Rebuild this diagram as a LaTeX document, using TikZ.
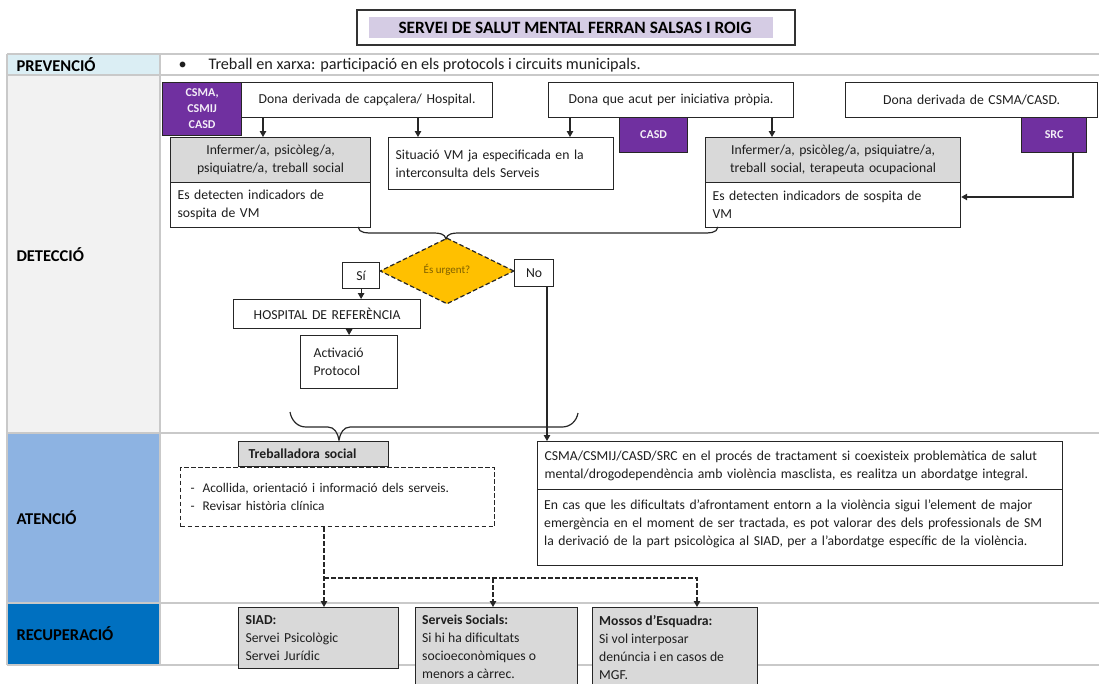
\documentclass[tikz,border=0pt]{standalone}
\usepackage{fontspec}
\setmainfont{Carlito}
\usetikzlibrary{arrows.meta,shapes.geometric}

\definecolor{purp}{HTML}{7030A0}
\definecolor{boxgray}{HTML}{D9D9D9}
\definecolor{prevcol}{HTML}{DBEEF4}
\definecolor{detcol}{HTML}{F2F2F2}
\definecolor{atencol}{HTML}{8DB3E2}
\definecolor{recucol}{HTML}{0070C0}
\definecolor{amber}{HTML}{FFC000}
\definecolor{lav}{HTML}{D5CCE4}
\definecolor{gridcol}{HTML}{C9C9C9}
\definecolor{urgtxt}{HTML}{7F6000}
\definecolor{ink}{HTML}{1E1E1E}

\begin{document}
\begin{tikzpicture}[x=1pt,y=-1pt,
  every node/.style={font=\fontsize{13.7}{18}\selectfont, text=ink},
  bx/.style={draw=black!85, line width=1.2pt, fill=white, anchor=north west,
             inner xsep=7pt, inner ysep=0pt, align=left},
  gbx/.style={bx, fill=boxgray},
  pbx/.style={draw=black!85, line width=1.2pt, fill=purp, anchor=north west, inner sep=0pt,
              align=center, text=white!92!purp, font=\fontsize{12}{16}\selectfont\bfseries},
  lbl/.style={anchor=west, font=\fontsize{16.5}{19}\selectfont\bfseries, text=black},
  arr/.style={-{Triangle[length=6pt,width=6.5pt]}, line width=1.1pt, draw=black!85},
  dasharr/.style={arr, dash pattern=on 4.5pt off 2.5pt},
  bracket/.style={line width=1.2pt, draw=black!85},
  grid/.style={draw=gridcol, line width=1.4pt}
]
\clip (0,0) rectangle (1099,683);

% ---------- title ----------
\draw[draw=black!80, line width=1.5pt, fill=white] (357,10) rectangle (795,45);
\fill[lav] (369,17) rectangle (773,38);
\node[font=\fontsize{17.3}{20}\selectfont\bfseries, text=black] (title) at (575,28)
  {SERVEI DE SALUT MENTAL FERRAN SALSAS I ROIG};

% ---------- table ----------
\fill[prevcol] (7,54) rectangle (160,75);
\fill[detcol]  (7,75) rectangle (160,433);
\fill[atencol] (7,433) rectangle (160,603);
\fill[recucol] (7,603) rectangle (160,665);
\foreach \yy in {54,75,433,603,665} \draw[grid] (7,\yy) -- (1099,\yy);
\draw[grid] (7,54) -- (7,665);
\draw[grid] (160,54) -- (160,665);

\node[lbl] (lprev) at (13,65)  {PREVENCIÓ};
\node[lbl] (ldet)  at (13,255) {DETECCIÓ};
\node[lbl] (laten) at (13,518) {ATENCIÓ};
\node[lbl] (lrecu) at (13,634) {RECUPERACIÓ};

\node[anchor=west, font=\fontsize{16.2}{19}\selectfont] (prevtxt) at (175,65)
  {\textbullet\hspace{22pt}Treball en xarxa: participació en els protocols i circuits municipals.};

% ---------- detection: entry points ----------
\node[bx, text width=237pt, minimum height=35pt, align=center] (d1) at (241,82)
  {Dona derivada de capçalera/ Hospital.};
\node[bx, text width=231pt, minimum height=35pt, align=center] (d2) at (548,82)
  {Dona que acut per iniciativa pròpia.};
\node[bx, text width=238pt, minimum height=35pt, align=center] (d3) at (845,82)
  {Dona derivada de CSMA/CASD.};

\node[pbx, minimum width=79pt, minimum height=53pt] (p1) at (162,82) {CSMA,\\CSMIJ\\CASD};
\node[pbx, minimum width=68pt, minimum height=35pt] (p2) at (619,117) {CASD};
\node[pbx, minimum width=65pt, minimum height=35pt] (p3) at (1021,117) {SRC};

% professionals and detection boxes
\node[gbx, text width=186pt, minimum height=45pt, align=center] (g1) at (170,137)
  {Infermer/a, psicòleg/a,\\psiquiatre/a, treball social};
\node[bx, text width=186pt, minimum height=45pt] (e1) at (170,182)
  {Es detecten indicadors de\\sospita de VM};
\node[bx, text width=211pt, minimum height=52pt] (s1) at (388,137)
  {Situació VM ja especificada en la\\interconsulta dels Serveis};
\node[gbx, text width=241pt, minimum height=45pt, align=center] (g2) at (705,137)
  {Infermer/a, psicòleg/a, psiquiatre/a,\\treball social, terapeuta ocupacional};
\node[bx, text width=241pt, minimum height=45pt] (e2) at (705,182)
  {Es detecten indicadors de sospita de\\VM};

\coordinate (a1) at (263,137);
\coordinate (a2) at (418,137);
\coordinate (a3) at (570,137);
\coordinate (a4) at (772,137);
\draw[arr] (a1 |- d1.south) -- (a1 |- g1.north);
\draw[arr] (a2 |- d1.south) -- (a2 |- s1.north);
\draw[arr] (a3 |- d2.south) -- (a3 |- s1.north);
\draw[arr] (a4 |- d2.south) -- (a4 |- g2.north);
\coordinate (src) at (1073,152);
\coordinate (srcin) at (960,197);
\draw[arr] (src |- p3.south) -- (src |- srcin) -- (srcin -| e2.east);

% ---------- urgency decision ----------
\node[diamond, draw=black!85, dash pattern=on 4.5pt off 2.5pt, line width=1.2pt,
      fill=amber, minimum width=134pt, minimum height=66pt, inner sep=0pt,
      font=\fontsize{11}{12}\selectfont, text=urgtxt] (urg) at (447,271)
  {\raisebox{4pt}{És urgent?}};
\node[bx, text width=23pt, minimum height=26pt, align=center] (si) at (342,262) {Sí};
\node[bx, text width=25pt, minimum height=27pt, align=center] (no) at (514,259) {No};

\draw[bracket] (358,227) to[out=-80,in=180] (374,233) -- (434,233)
  to[out=0,in=100] (446,239) to[out=80,in=180] (458,233) -- (702,233)
  to[out=0,in=-100] (718,227);

\node[bx, text width=173pt, minimum height=29pt, align=center] (hosp) at (233,299)
  {HOSPITAL DE REFERÈNCIA};
\node[bx, inner xsep=13pt, text width=71pt, minimum height=53pt] (act) at (300,335)
  {Activació\\Protocol};
\draw[arr] (si.south) -- (si.south |- hosp.north);
\draw[arr] (act.north |- hosp.south) -- (act.north);

% ---------- attention ----------
\node[gbx, inner xsep=10pt, text width=130pt, minimum height=25pt,
      font=\fontsize{13.7}{18}\selectfont\bfseries] (ts) at (238,441) {Treballadora social};
\node[bx, dash pattern=on 4.5pt off 2.5pt, fill=white, inner xsep=10pt,
      text width=294pt, minimum height=59pt, font=\fontsize{13.3}{18}\selectfont] (db) at (180,467)
  {-\hspace{8pt}Acollida, orientació i informació dels serveis.\\-\hspace{8pt}Revisar història clínica};

\node[bx, text width=511pt, minimum height=48pt] (c1) at (537,441)
  {CSMA/CSMIJ/CASD/SRC en el procés de tractament si coexisteix problemàtica de salut\\
   mental/drogodependència amb violència masclista, es realitza un abordatge integral.};
\node[bx, text width=511pt, minimum height=76pt, anchor=north west] (c2) at (537,489) {};
\node[anchor=north west, align=left, inner sep=0pt, text width=518pt] (c2t)
  at ([xshift=7pt,yshift=-11pt]c2.north west)
  {En cas que les dificultats d’afrontament entorn a la violència sigui l’element de major\\
   emergència en el moment de ser tractada, es pot valorar des dels professionals de SM\\
   la derivació de la part psicològica al SIAD, per a l’abordatge específic de la violència.};

% lower bracket: detection results lead to attention
\draw[bracket] (290,412) to[out=-80,in=180] (306,427) -- (328,427)
  to[out=0,in=100] (339,440) to[out=80,in=180] (350,427) -- (562,427)
  to[out=0,in=-100] (578,413);
\coordinate (nodown) at (547,441);
\draw[arr] (nodown |- no.south) -- (nodown |- c1.north);

% ---------- recovery ----------
\node[gbx, text width=146pt, minimum height=61pt] (siad) at (238,607)
  {\textbf{SIAD:}\\Servei Psicològic\\Servei Jurídic};
\node[gbx, text width=148pt, minimum height=80pt] (ss) at (415,607) {};
\node[anchor=north west, align=left, inner sep=0pt] (sst) at ([xshift=7pt,yshift=-8pt]ss.north west)
  {\textbf{Serveis Socials:}\\Si hi ha dificultats\\socioeconòmiques o\\menors a càrrec.};
\node[gbx, text width=151pt, minimum height=80pt] (me) at (592,607) {};
\node[anchor=north west, align=left, inner sep=0pt] (met) at ([xshift=7pt,yshift=-8pt]me.north west)
  {\textbf{Mossos d’Esquadra:}\\Si vol interposar\\denúncia i en casos de\\MGF.};

\coordinate (j1) at (324,578);
\coordinate (j2) at (493,578);
\coordinate (j3) at (697,578);
\draw[dasharr] (j1 |- db.south) -- (j1 |- siad.north);
\draw[dasharr] (j1) -- (j3) -- (j3 |- me.north);
\draw[dasharr] (j2) -- (j2 |- ss.north);

\end{tikzpicture}
\end{document}
